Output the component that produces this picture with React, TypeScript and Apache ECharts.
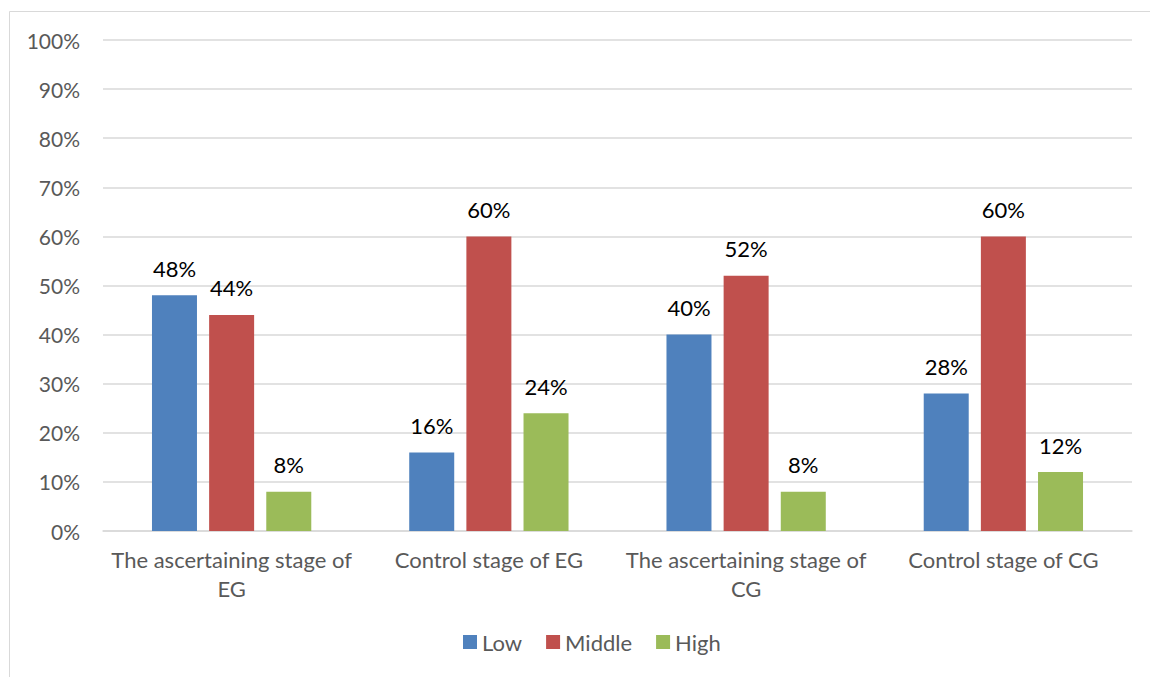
import React, { useEffect, useRef } from "react";
import * as echarts from "echarts";

const categories = [
  "The ascertaining stage of EG",
  "Control stage of EG",
  "The ascertaining stage of CG",
  "Control stage of CG",
];
const lowValues = [48, 16, 40, 28];
const middleValues = [44, 60, 52, 60];
const highValues = [8, 24, 8, 12];
const seriesNames = ["Low", "Middle", "High"];
const seriesColors = ["#4F81BD", "#C0504D", "#9BBB59"];

const FONT = "Lato";

function wrapLabel(v: string): string {
  if (v.length <= 22) return v;
  const i = v.lastIndexOf(" ");
  return v.slice(0, i) + "\n" + v.slice(i + 1);
}

export default function App() {
  const ref = useRef<HTMLDivElement>(null);
  useEffect(() => {
    if (!ref.current) return;
    const chart = echarts.init(ref.current, undefined, { renderer: "svg" });
    const data = [lowValues, middleValues, highValues];
    chart.setOption({
      animation: false,
      textStyle: { fontFamily: FONT },
      graphic: [
        {
          type: "rect",
          shape: { x: 9.5, y: 11.5, width: 1200, height: 700 },
          style: { fill: "none", stroke: "#D9D9D9", lineWidth: 1 },
          silent: true,
        },
      ],
      grid: { left: 103, right: 18, top: 40, bottom: 146, containLabel: false },
      legend: {
        bottom: 19,
        left: 458,
        itemWidth: 14,
        itemHeight: 14,
        itemGap: 24,
        icon: "rect",
        textStyle: { fontFamily: FONT, fontSize: 22, color: "#595959" },
        data: seriesNames,
      },
      xAxis: {
        type: "category",
        data: categories,
        axisLine: { lineStyle: { color: "#D9D9D9", width: 1.5 } },
        axisTick: { show: false },
        axisLabel: {
          fontFamily: FONT,
          fontSize: 22,
          color: "#595959",
          margin: 14,
          lineHeight: 29,
          interval: 0,
          formatter: (v: string) => wrapLabel(v),
        },
      },
      yAxis: {
        type: "value",
        min: 0,
        max: 100,
        interval: 10,
        axisLine: { show: false },
        axisTick: { show: false },
        splitLine: { lineStyle: { color: "#D9D9D9", width: 1.5 } },
        axisLabel: {
          fontFamily: FONT,
          fontSize: 21,
          color: "#595959",
          margin: 23,
          formatter: (v: number) => v + "%",
        },
      },
      series: seriesNames.map((name, i) => ({
        name,
        type: "bar",
        data: data[i],
        barWidth: 45,
        barGap: "27%",
        itemStyle: { color: seriesColors[i] },
        label: {
          show: true,
          position: "top",
          distance: 16,
          fontFamily: FONT,
          fontSize: 22,
          color: "#000000",
          formatter: (p: any) => p.value + "%",
        },
      })),
    });
    return () => chart.dispose();
  }, []);
  return (
    <div
      ref={ref}
      style={{ position: "fixed", left: 0, top: 0, width: 1150, height: 677, background: "#fff" }}
    />
  );
}
